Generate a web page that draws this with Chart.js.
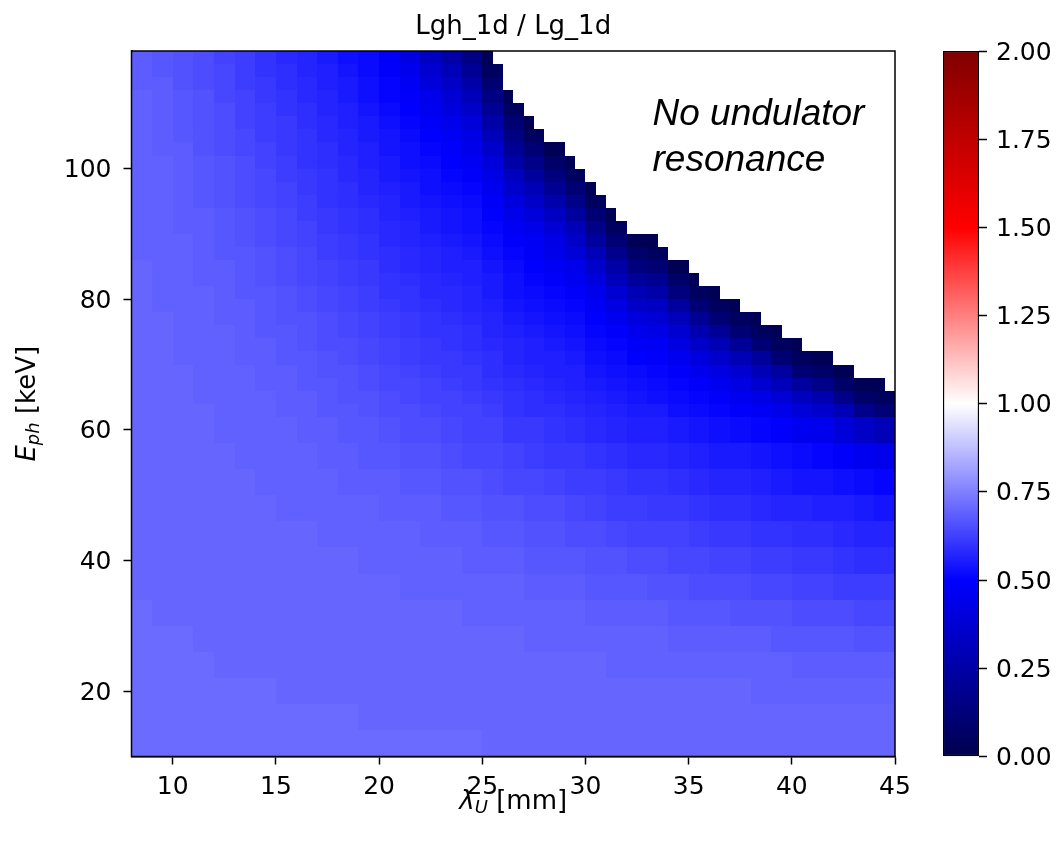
<!DOCTYPE html>
<html>
<head>
<meta charset="utf-8">
<script src="https://cdn.jsdelivr.net/npm/chart.js@4.4.1/dist/chart.umd.min.js"></script>
<style>
  body { margin: 0; background: #fff; }
  #wrap { position: relative; width: 1061px; height: 843px; }
  #mapCanvas { position: absolute; left: 0; top: 0; }
  #barCanvas { position: absolute; left: 943px; top: 0; }
</style>
</head>
<body>
<div id="wrap">
  <canvas id="mapCanvas" width="1061" height="843"></canvas>
  <canvas id="barCanvas" width="118" height="843"></canvas>
</div>
<script>
  // undulator period lambda_U [mm], edges of the 1 mm columns
  const lambdaEdges = [8, 9, 10, 11, 12, 13, 14, 15, 16, 17, 18, 19, 20, 21, 22, 23, 24, 25, 26,
    27, 28, 29, 30, 31, 32, 33, 34, 35, 36, 37, 38, 39, 40, 41, 42, 43, 44, 45];
  // photon energy E_ph [keV], row edges bottom to top (4 keV rows below 62, 2 keV rows above)
  const energyEdges = [10, 14, 18, 22, 26, 30, 34, 38, 42, 46, 50, 54, 58, 62,
    64, 66, 68, 70, 72, 74, 76, 78, 80, 82, 84, 86, 88, 90, 92, 94, 96, 98, 100,
    102, 104, 106, 108, 110, 112, 114, 116, 118];

  // highest photon energy with undulator resonance, per half column (8.0, 8.5, ... 44.5 mm)
  const resonanceTop = [
    118, 118, 118, 118, 118, 118, 118, 118, 118, 118,
    118, 118, 118, 118, 118, 118, 118, 118, 118, 118,
    118, 118, 118, 118, 118, 118, 118, 118, 118, 118,
    118, 118, 118, 118, 118,
    116, 112, 110, 108, 106, 104, 104, 102, 100, 98,
    96, 94, 92, 90, 90, 90, 88, 86, 86, 84,
    82, 82, 80, 80, 78, 78, 76, 76, 74, 74,
    72, 72, 72, 70, 70, 68, 68, 68, 66
  ];

  // Lgh_1d / Lg_1d in hundredths, top row (116-118 keV) first, columns 8-9 mm ... 44-45 mm
  // a row that stops early has no resonance further right
  const ratioRows = [
    [68, 67, 66, 65, 63, 62, 60, 58, 57, 55, 53, 52, 48, 42, 33, 25, 15, 2],
    [68, 67, 66, 65, 64, 62, 60, 59, 57, 56, 54, 52, 49, 45, 37, 30, 20, 5],
    [68, 68, 66, 65, 64, 62, 61, 59, 58, 56, 55, 53, 51, 47, 40, 34, 26, 10],
    [69, 68, 67, 66, 64, 63, 61, 60, 58, 57, 55, 53, 51, 49, 44, 38, 31, 15, 2],
    [69, 68, 67, 66, 65, 63, 62, 60, 59, 57, 56, 54, 52, 50, 46, 41, 35, 20, 5],
    [69, 68, 67, 66, 65, 63, 62, 61, 59, 58, 56, 55, 53, 51, 48, 44, 39, 26, 11, 2],
    [69, 68, 67, 66, 65, 64, 62, 61, 60, 58, 57, 55, 54, 52, 50, 47, 43, 31, 15, 5],
    [69, 68, 68, 66, 65, 64, 63, 61, 60, 59, 57, 56, 54, 53, 51, 49, 45, 36, 20, 11, 2],
    [69, 69, 68, 67, 66, 65, 63, 62, 60, 59, 58, 56, 55, 53, 52, 50, 47, 40, 26, 17, 8, 2],
    [69, 69, 68, 67, 66, 65, 64, 62, 61, 60, 58, 57, 55, 54, 53, 51, 49, 43, 32, 23, 14, 5],
    [69, 69, 68, 67, 66, 65, 64, 63, 61, 60, 59, 57, 56, 55, 53, 52, 51, 46, 36, 30, 20, 11, 2],
    [69, 69, 68, 67, 66, 65, 64, 63, 62, 60, 59, 58, 57, 55, 54, 53, 52, 48, 41, 35, 27, 17, 5],
    [69, 69, 68, 68, 67, 66, 65, 64, 62, 61, 60, 59, 57, 56, 55, 54, 53, 50, 44, 40, 33, 23, 11, 2],
    [69, 69, 68, 68, 67, 66, 65, 64, 63, 61, 60, 59, 58, 57, 55, 54, 53, 51, 47, 44, 38, 30, 17, 5],
    [69, 69, 69, 68, 67, 66, 65, 64, 63, 62, 61, 60, 58, 57, 56, 55, 54, 52, 49, 47, 43, 35, 23, 11, 2, 2],
    [69, 69, 69, 68, 67, 67, 66, 65, 64, 62, 61, 60, 59, 58, 57, 56, 55, 53, 51, 48, 44, 39, 30, 18, 8, 5],
    [70, 69, 69, 68, 68, 67, 66, 65, 64, 63, 62, 61, 59, 58, 57, 56, 56, 54, 52, 50, 47, 44, 36, 25, 14, 11, 2],
    [70, 69, 69, 68, 68, 67, 66, 65, 64, 63, 62, 61, 60, 59, 58, 57, 56, 55, 53, 51, 49, 46, 41, 31, 22, 19, 8, 2],
    [70, 69, 69, 69, 68, 67, 67, 66, 65, 64, 63, 62, 60, 60, 58, 58, 57, 55, 53, 52, 51, 49, 45, 37, 29, 26, 14, 5, 2],
    [70, 69, 69, 69, 68, 68, 67, 66, 65, 64, 63, 62, 61, 60, 59, 58, 57, 56, 54, 53, 52, 51, 47, 42, 35, 33, 23, 11, 5, 2],
    [70, 70, 69, 69, 68, 68, 67, 66, 66, 65, 64, 63, 62, 61, 60, 59, 58, 57, 55, 54, 53, 52, 50, 46, 41, 38, 31, 20, 11, 5, 2],
    [70, 70, 69, 69, 69, 68, 67, 67, 66, 65, 64, 63, 62, 61, 60, 60, 59, 57, 56, 55, 54, 53, 51, 49, 45, 43, 37, 28, 21, 11, 5, 2],
    [70, 70, 69, 69, 69, 68, 68, 67, 66, 65, 65, 64, 63, 62, 61, 60, 59, 58, 57, 56, 55, 54, 52, 51, 48, 47, 42, 35, 29, 21, 11, 5, 2],
    [70, 70, 69, 69, 69, 68, 68, 67, 67, 66, 65, 64, 63, 62, 61, 61, 60, 59, 57, 56, 56, 55, 53, 52, 50, 49, 46, 41, 36, 29, 22, 11, 5, 2],
    [70, 70, 70, 69, 69, 69, 68, 68, 67, 66, 66, 65, 64, 63, 62, 61, 61, 59, 58, 57, 56, 56, 54, 53, 52, 51, 49, 45, 42, 37, 30, 23, 11, 8, 2],
    [70, 70, 70, 69, 69, 69, 68, 68, 67, 67, 66, 65, 64, 64, 63, 62, 61, 60, 59, 58, 57, 56, 55, 54, 53, 52, 51, 49, 46, 42, 37, 31, 23, 17, 8, 2, 2],
    [70, 70, 70, 69, 69, 69, 69, 68, 68, 67, 66, 66, 65, 64, 63, 63, 62, 61, 60, 59, 58, 57, 56, 55, 54, 53, 52, 51, 49, 46, 43, 38, 32, 28, 17, 8, 5],
    [70, 70, 70, 70, 69, 69, 69, 68, 68, 67, 67, 66, 65, 65, 64, 63, 63, 62, 60, 59, 59, 58, 57, 56, 55, 55, 53, 52, 51, 49, 47, 44, 39, 36, 29, 18, 12],
    // 4 keV rows from here (58-62 keV down to 10-14 keV)
    [70, 70, 70, 70, 69, 69, 69, 69, 68, 68, 67, 67, 66, 65, 65, 64, 63, 63, 61, 61, 60, 59, 58, 57, 56, 56, 55, 54, 53, 52, 51, 49, 46, 45, 40, 34, 30],
    [70, 70, 70, 70, 70, 69, 69, 69, 69, 68, 68, 67, 67, 66, 66, 65, 64, 64, 63, 62, 61, 61, 60, 59, 58, 58, 57, 56, 55, 55, 54, 53, 52, 51, 49, 46, 44],
    [70, 70, 70, 70, 70, 70, 69, 69, 69, 69, 68, 68, 68, 67, 67, 66, 66, 65, 64, 64, 63, 62, 62, 61, 60, 60, 59, 58, 57, 57, 56, 55, 54, 54, 53, 52, 51],
    [70, 70, 70, 70, 70, 70, 70, 69, 69, 69, 69, 69, 68, 68, 68, 67, 67, 66, 66, 65, 65, 64, 63, 62, 62, 61, 61, 60, 59, 59, 58, 57, 57, 56, 56, 55, 54],
    [70, 70, 70, 70, 70, 70, 70, 70, 70, 69, 69, 69, 69, 69, 68, 68, 68, 67, 67, 66, 66, 65, 65, 64, 63, 63, 63, 62, 61, 61, 60, 60, 59, 59, 58, 57, 57],
    [70, 70, 70, 70, 70, 70, 70, 70, 70, 70, 70, 69, 69, 69, 69, 69, 68, 68, 68, 67, 67, 67, 66, 66, 65, 65, 64, 64, 63, 63, 62, 62, 61, 61, 60, 59, 59],
    [70, 70, 70, 70, 70, 70, 70, 70, 70, 70, 70, 70, 70, 69, 69, 69, 69, 69, 69, 68, 68, 68, 67, 67, 67, 66, 66, 65, 65, 65, 64, 64, 63, 63, 62, 62, 62],
    [71, 70, 70, 70, 70, 70, 70, 70, 70, 70, 70, 70, 70, 70, 70, 70, 69, 69, 69, 69, 69, 69, 68, 68, 68, 68, 67, 67, 67, 66, 66, 66, 65, 65, 65, 64, 64],
    [71, 71, 71, 70, 70, 70, 70, 70, 70, 70, 70, 70, 70, 70, 70, 70, 70, 70, 70, 69, 69, 69, 69, 69, 69, 69, 68, 68, 68, 68, 68, 67, 67, 67, 67, 66, 66],
    [71, 71, 71, 71, 70, 70, 70, 70, 70, 70, 70, 70, 70, 70, 70, 70, 70, 70, 70, 70, 70, 70, 70, 69, 69, 69, 69, 69, 69, 69, 69, 69, 68, 68, 68, 68, 68],
    [71, 71, 71, 71, 71, 71, 71, 70, 70, 70, 70, 70, 70, 70, 70, 70, 70, 70, 70, 70, 70, 70, 70, 70, 70, 70, 70, 70, 70, 70, 69, 69, 69, 69, 69, 69, 69],
    [71, 71, 71, 71, 71, 71, 71, 71, 71, 71, 71, 70, 70, 70, 70, 70, 70, 70, 70, 70, 70, 70, 70, 70, 70, 70, 70, 70, 70, 70, 70, 70, 70, 70, 70, 70, 70],
    [71, 71, 71, 71, 71, 71, 71, 71, 71, 71, 71, 71, 71, 71, 71, 71, 71, 70, 70, 70, 70, 70, 70, 70, 70, 70, 70, 70, 70, 70, 70, 70, 70, 70, 70, 70, 70]
  ];

  const lambdaTicks = [10, 15, 20, 25, 30, 35, 40, 45];
  const energyTicks = [20, 40, 60, 80, 100];
  const colorTicks = [0, 0.25, 0.5, 0.75, 1, 1.25, 1.5, 1.75, 2];
  const colorMax = 2;

  // matplotlib "seismic"
  const seismicStops = [
    [0, 0, 0, 76.5],
    [0.25, 0, 0, 255],
    [0.5, 255, 255, 255],
    [0.75, 255, 0, 0],
    [1, 127.5, 0, 0]
  ];

  function seismic(t) {
    t = Math.max(0, Math.min(1, t));
    for (let i = 1; i < seismicStops.length; i++) {
      const a = seismicStops[i - 1], b = seismicStops[i];
      if (t <= b[0]) {
        const f = (t - a[0]) / (b[0] - a[0]);
        const r = Math.round(a[1] + f * (b[1] - a[1]));
        const g = Math.round(a[2] + f * (b[2] - a[2]));
        const bl = Math.round(a[3] + f * (b[3] - a[3]));
        return 'rgb(' + r + ',' + g + ',' + bl + ')';
      }
    }
    return 'rgb(127,0,0)';
  }

  // draws text pieces one after another, centred on x (italic symbols with subscripts)
  function drawPieces(ctx, pieces, x, y) {
    let w = 0;
    pieces.forEach(p => { ctx.font = p.font; w += ctx.measureText(p.text).width; });
    let cx = x - w / 2;
    pieces.forEach(p => {
      ctx.font = p.font;
      ctx.fillText(p.text, cx, y + (p.dy || 0));
      cx += ctx.measureText(p.text).width;
    });
  }

  Chart.defaults.font.family = "'DejaVu Sans', sans-serif";
  Chart.defaults.color = '#000';

  const tickFont = { family: "'DejaVu Sans', sans-serif", size: 25 };

  const heatmapPlugin = {
    id: 'heatmap',
    beforeDatasetsDraw(chart) {
      const { ctx, chartArea, scales: { x, y } } = chart;
      const nRows = ratioRows.length;
      ctx.save();
      ctx.beginPath();
      ctx.rect(chartArea.left, chartArea.top, chartArea.width, chartArea.height);
      ctx.clip();
      for (let c = 0; c < lambdaEdges.length - 1; c++) {
        const l0 = lambdaEdges[c], l1 = lambdaEdges[c + 1], lm = (l0 + l1) / 2;
        const halves = [[l0, lm, resonanceTop[2 * c]], [lm, l1, resonanceTop[2 * c + 1]]];
        halves.forEach(([a, b, top]) => {
          const px0 = Math.round(x.getPixelForValue(a));
          const px1 = Math.round(x.getPixelForValue(b));
          for (let r = 0; r < nRows; r++) {
            const v = ratioRows[r][c];
            if (v == null) continue;
            const e0 = energyEdges[nRows - 1 - r];
            const e1 = Math.min(energyEdges[nRows - r], top);
            if (e1 <= e0) continue;
            const py0 = Math.round(y.getPixelForValue(e1));
            const py1 = Math.round(y.getPixelForValue(e0));
            ctx.fillStyle = seismic(v / 100 / colorMax);
            ctx.fillRect(px0, py0, px1 - px0, py1 - py0);
          }
        });
      }
      ctx.restore();
    },
    afterDraw(chart) {
      const { ctx, chartArea, scales: { x, y } } = chart;
      ctx.save();
      // frame
      ctx.strokeStyle = '#000';
      ctx.lineWidth = 1.5;
      ctx.strokeRect(chartArea.left, chartArea.top, chartArea.width, chartArea.height);

      ctx.fillStyle = '#000';
      ctx.textBaseline = 'alphabetic';
      ctx.textAlign = 'left';

      // annotation
      ctx.font = "italic 37px 'Liberation Sans', Arial, sans-serif";
      const ax = x.getPixelForValue(33.25), ay = y.getPixelForValue(106.7);
      ctx.fillText('No undulator', ax, ay);
      ctx.fillText('resonance', ax, ay + 46);

      const mid = (chartArea.left + chartArea.right) / 2;

      // title
      drawPieces(ctx, [{ text: 'Lgh_1d / Lg_1d', font: "26px 'DejaVu Sans'" }], mid, 34);

      // x label
      drawPieces(ctx, [
        { text: 'λ', font: "oblique 26px 'DejaVu Sans'" },
        { text: 'U', font: "oblique 18px 'DejaVu Sans'", dy: 4 },
        { text: ' [mm]', font: "26px 'DejaVu Sans'" }
      ], mid, 809);

      // y label
      ctx.translate(35, (chartArea.top + chartArea.bottom) / 2);
      ctx.rotate(-Math.PI / 2);
      drawPieces(ctx, [
        { text: 'E', font: "oblique 26px 'DejaVu Sans'" },
        { text: 'ph', font: "oblique 18px 'DejaVu Sans'", dy: 4 },
        { text: ' [keV]', font: "26px 'DejaVu Sans'" }
      ], 0, 0);
      ctx.restore();
    }
  };

  const axisGrid = { display: true, drawOnChartArea: false, drawTicks: true, tickLength: 8, tickWidth: 1.5, color: '#000' };

  new Chart(document.getElementById('mapCanvas').getContext('2d'), {
    type: 'scatter',
    data: { datasets: [{ data: [] }] },
    options: {
      responsive: false,
      animation: false,
      layout: { padding: { top: 51, right: 166, bottom: 0, left: 0 } },
      plugins: { legend: { display: false }, tooltip: { enabled: false } },
      scales: {
        x: {
          type: 'linear',
          min: 8,
          max: 45,
          afterBuildTicks: axis => { axis.ticks = lambdaTicks.map(v => ({ value: v })); },
          afterFit: axis => { axis.height = 86.5; },
          grid: axisGrid,
          border: { display: true, color: '#000', width: 1.5 },
          ticks: { font: tickFont, color: '#000', padding: 8, maxRotation: 0, autoSkip: false }
        },
        y: {
          type: 'linear',
          min: 10,
          max: 118,
          afterBuildTicks: axis => { axis.ticks = energyTicks.map(v => ({ value: v })); },
          afterFit: axis => { axis.width = 131.5; },
          grid: axisGrid,
          border: { display: true, color: '#000', width: 1.5 },
          ticks: { font: tickFont, color: '#000', padding: 12, labelOffset: 2, autoSkip: false }
        }
      }
    },
    plugins: [heatmapPlugin]
  });

  // colour bar
  new Chart(document.getElementById('barCanvas').getContext('2d'), {
    type: 'bar',
    data: {
      labels: [''],
      datasets: [{
        data: [[0, colorMax]],
        backgroundColor: context => {
          const area = context.chart.chartArea;
          if (!area) return null;
          const g = context.chart.ctx.createLinearGradient(0, area.bottom, 0, area.top);
          seismicStops.forEach(s => g.addColorStop(s[0], 'rgb(' + s[1] + ',' + s[2] + ',' + s[3] + ')'));
          return g;
        },
        borderColor: '#000',
        borderWidth: 1.5,
        borderSkipped: false,
        barPercentage: 1,
        categoryPercentage: 1
      }]
    },
    options: {
      responsive: false,
      animation: false,
      layout: { padding: { top: 51, bottom: 86.5, left: 0, right: 0 } },
      plugins: { legend: { display: false }, tooltip: { enabled: false } },
      scales: {
        x: { display: false },
        y: {
          position: 'right',
          min: 0,
          max: colorMax,
          afterBuildTicks: axis => { axis.ticks = colorTicks.map(v => ({ value: v })); },
          afterFit: axis => { axis.width = 82; },
          grid: { display: true, drawOnChartArea: false, drawTicks: true, tickLength: 8, tickWidth: 1.5, color: '#000' },
          border: { display: false },
          ticks: { font: tickFont, color: '#000', padding: 9, labelOffset: 2, autoSkip: false, callback: v => v.toFixed(2) }
        }
      }
    }
  });
</script>
</body>
</html>
